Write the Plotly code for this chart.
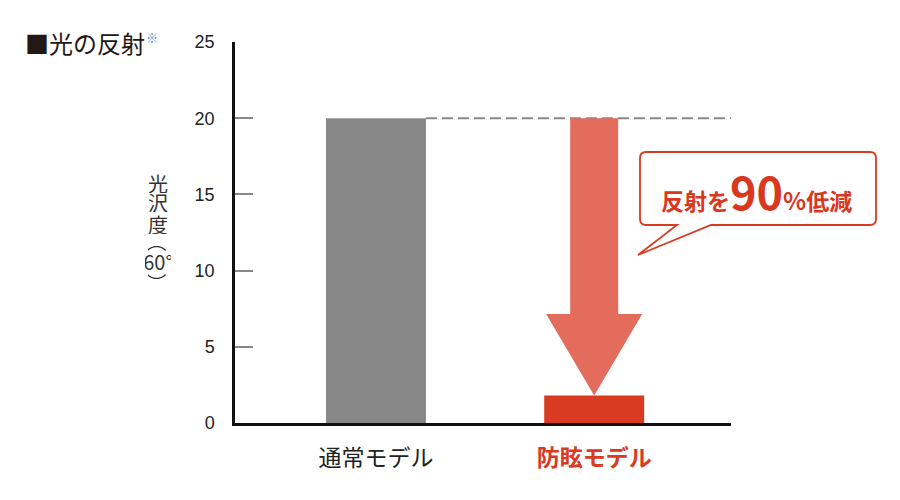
import plotly.graph_objects as go

categories = ["通常モデル", "防眩モデル"]
values = [20.0, 1.8]
bar_colors = ["#888888", "#d93a22"]
tick_vals = [0, 5, 10, 15, 20, 25]
tick_labels = ["0", "5", "10", "15", "20", "25"]
cat_labels = [
    "<span style='color:#222222'>通常モデル</span>",
    "<b><span style='color:#d93a22'>防眩モデル</span></b>",
]
x_pos = [0, 1]
callout_text = ("<b>反射を<span style='font-size:45px'>90</span>"
                "<span style='font-size:24px'>%</span>低減</b>")
ylabel_parts = ["光", "沢", "度", "（", "60°", "）"]

OFF = 8
L, R, T, B = 235, 731, 42, 423
W, H = R - L, B - T
def px(X):
    return (X - L) / W
def py(Y):
    return (B - Y) / H

xr = [-0.646, 1.627]
bar_w = 0.458

fig = go.Figure()
fig.add_trace(go.Bar(
    x=x_pos, y=values, width=bar_w,
    marker=dict(color=bar_colors, line=dict(width=0)),
    hoverinfo="skip",
))

shapes = []
shapes.append(dict(type="line", xref="x", yref="y",
                   x0=x_pos[0] + bar_w / 2, x1=xr[1], y0=values[0], y1=values[0],
                   line=dict(color="#888888", width=2, dash="11px,5px"), layer="below"))

ax = x_pos[1]
shaft_hw = 0.11
head_hw = 0.22
head_top = values[1] + 5.35
top = values[0]
tip = values[1]
arrow_path = (f"M {ax-shaft_hw},{top} L {ax+shaft_hw},{top} L {ax+shaft_hw},{head_top} "
              f"L {ax+head_hw},{head_top} L {ax},{tip} L {ax-head_hw},{head_top} "
              f"L {ax-shaft_hw},{head_top} Z")
shapes.append(dict(type="path", xref="x", yref="y", path=arrow_path,
                   fillcolor="#e36c5c", line=dict(width=0), layer="below"))

bx0, bx1 = px(640), px(876)
by0, by1 = py(225), py(152)
rx, ry = 6 / W, 6 / H
tb0, tb1 = px(677), px(711)
tipx, tipy = px(638), py(255)
callout = (f"M {bx0+rx},{by1} L {bx1-rx},{by1} Q {bx1},{by1} {bx1},{by1-ry} "
           f"L {bx1},{by0+ry} Q {bx1},{by0} {bx1-rx},{by0} "
           f"L {tb1},{by0} L {tipx},{tipy} L {tb0},{by0} "
           f"L {bx0+rx},{by0} Q {bx0},{by0} {bx0},{by0+ry} "
           f"L {bx0},{by1-ry} Q {bx0},{by1} {bx0+rx},{by1} Z")
shapes.append(dict(type="path", xref="paper", yref="paper", path=callout,
                   fillcolor="white", line=dict(color="#d93a22", width=1.8)))

annotations = [
    dict(text=callout_text, xref="paper", yref="paper",
         x=px(756), y=py(190), showarrow=False, xanchor="center", yanchor="middle",
         font=dict(family="Noto Sans CJK JP", size=23, color="#d9381e")),
    dict(text="■光の反射",
         xref="paper", yref="paper", x=px(23), y=py(43), showarrow=False,
         xanchor="left", yanchor="middle",
         font=dict(family="Noto Sans CJK JP", size=24, color="#231815")),
    dict(text="※",
         xref="paper", yref="paper", x=px(144), y=py(38), showarrow=False,
         xanchor="left", yanchor="middle",
         font=dict(family="Noto Sans CJK JP", size=12, color="#4a7fe0")),
]

ylabel_y = [183, 203, 224, 242, 262, 283]
for part, yy in zip(ylabel_parts, ylabel_y):
    rot = 90 if part in ("（", "）") else 0
    annotations.append(dict(text=part, xref="paper", yref="paper",
                            x=px(158), y=py(yy), showarrow=False,
                            xanchor="center", yanchor="middle", textangle=rot,
                            height=19, width=26,
                            font=dict(family="Noto Sans CJK JP", size=20, color="#333333")))

fig.update_layout(
    width=900 - OFF, height=500 - OFF,
    margin=dict(l=L - OFF, r=900 - R, t=T - OFF, b=500 - B, pad=0),
    paper_bgcolor="white", plot_bgcolor="white",
    showlegend=False,
    shapes=shapes, annotations=annotations,
    xaxis=dict(range=xr, tickvals=x_pos, ticktext=cat_labels,
               showgrid=False, zeroline=False, showline=True,
               linecolor="#111111", linewidth=2.5, ticks="",
               tickfont=dict(family="Noto Sans CJK JP", size=23, color="#222222"),
               ticklabelstandoff=13,
               fixedrange=True),
    yaxis=dict(range=[0, 25], tickvals=tick_vals, ticktext=tick_labels,
               showgrid=False, zeroline=False, showline=True,
               linecolor="#111111", linewidth=2.5,
               ticks="inside", ticklen=18, tickwidth=2, tickcolor="#888888",
               tickfont=dict(family="Liberation Sans", size=18, color="#222222"),
               ticklabelstandoff=14,
               fixedrange=True),
)

fig.write_html("out.html")
